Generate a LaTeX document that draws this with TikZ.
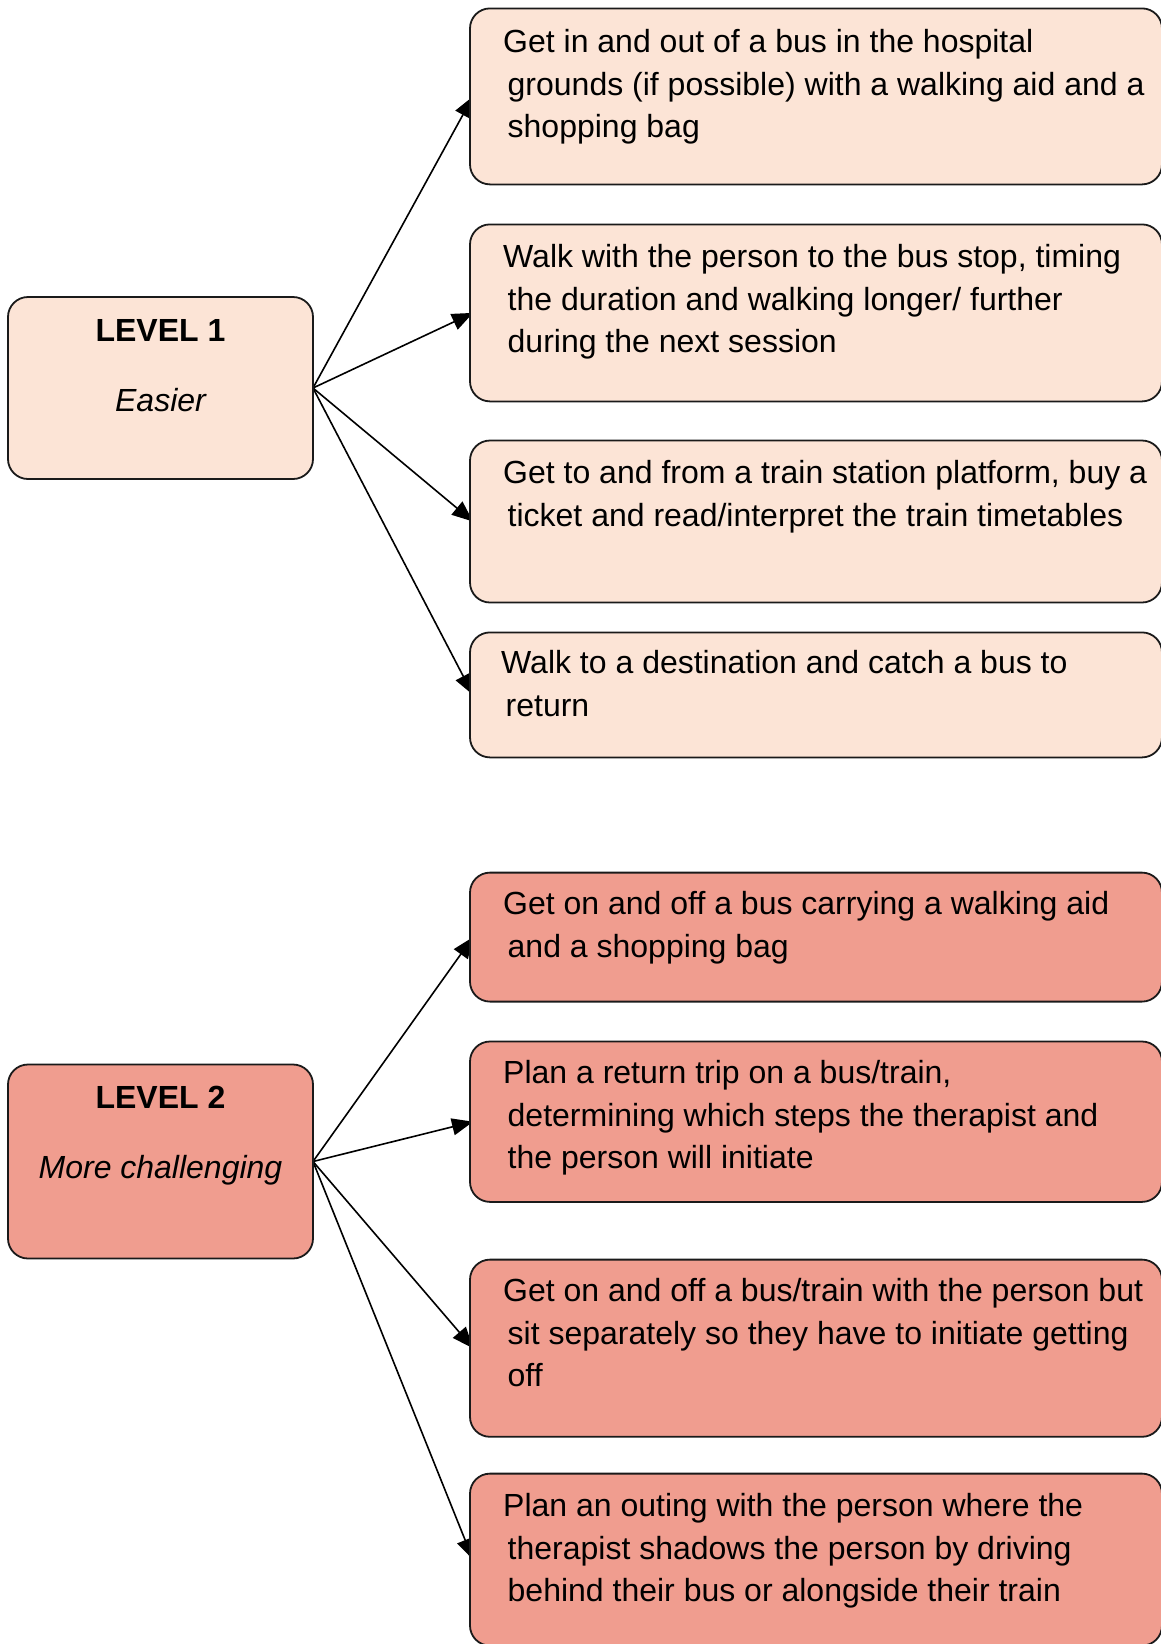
\documentclass[tikz,border=0pt]{standalone}
\usepackage{fontspec}
\setmainfont{Liberation Sans}
\usetikzlibrary{arrows.meta,backgrounds}
\definecolor{peach}{HTML}{FCE4D6}
\definecolor{salmon}{HTML}{F09D8F}
\definecolor{edge}{HTML}{1A1A1A}
% strut that fixes the height of the first text row above its baseline
\newcommand\firstrow{\rule{0pt}{26pt}}
\newcommand\cont{\hspace*{4.5pt}}

\begin{document}
\begin{tikzpicture}[x=1pt,y=-1pt,
  box/.style={draw=edge, line width=1.8pt, rounded corners=20pt, anchor=north west,
              inner sep=0pt, outer sep=0pt},
  lvlbox/.style={box, minimum width=305pt},
  taskbox/.style={box, minimum width=692pt},
  easy/.style={fill=peach},
  hard/.style={fill=salmon},
  lvltext/.style={anchor=base, inner sep=0pt, font=\fontsize{32}{38}\selectfont},
  tasktext/.style={anchor=north west, inner sep=0pt, align=left,
                   font=\fontsize{32}{42.5}\selectfont},
  link/.style={draw=black, line width=1.6pt, -{Triangle[length=21pt,width=17pt]}}
]
\useasboundingbox (0,0) rectangle (1160,1644);

% ---- level 1 ----
\node[lvlbox, easy, minimum height=182pt] (l1) at (8,297) {};
\node[lvltext] (l1a) at (160.5,341) {\bfseries LEVEL 1};
\node[lvltext] (l1b) at (160.5,411) {\itshape Easier};

\node[taskbox, easy, minimum height=176pt] (a1) at (470,8.4) {};
\node[tasktext] (a1t) at (503,52.4-26) {\firstrow Get in and out of a bus in the hospital\\
  \cont grounds (if possible) with a walking aid and a\\ \cont shopping bag};

\node[taskbox, easy, minimum height=177pt] (a2) at (470,224.4) {};
\node[tasktext] (a2t) at (503,267.4-26) {\firstrow Walk with the person to the bus stop, timing\\
  \cont the duration and walking longer/ further\\ \cont during the next session};

\node[taskbox, easy, minimum height=162pt] (a3) at (470,440.5) {};
\node[tasktext] (a3t) at (503,483.5-26) {\firstrow Get to and from a train station platform, buy a\\
  \cont ticket and read/interpret the train timetables};

\node[taskbox, easy, minimum height=125pt] (a4) at (470,632.4) {};
\node[tasktext] (a4t) at (501,673.4-26) {\firstrow Walk to a destination and catch a bus to\\
  \cont return};

% ---- level 2 ----
\node[lvlbox, hard, minimum height=194pt] (l2) at (8,1064.5) {};
\node[lvltext] (l2a) at (160.5,1108.5) {\bfseries LEVEL 2};
\node[lvltext] (l2b) at (160.5,1178.5) {\itshape More challenging};

\node[taskbox, hard, minimum height=129pt] (b1) at (470,872.6) {};
\node[tasktext] (b1t) at (503,914.6-26) {\firstrow Get on and off a bus carrying a walking aid\\
  \cont and a shopping bag};

\node[taskbox, hard, minimum height=160.4pt] (b2) at (470,1041.5) {};
\node[tasktext] (b2t) at (503,1083.5-26) {\firstrow Plan a return trip on a bus/train,\\
  \cont determining which steps the therapist and\\ \cont the person will initiate};

\node[taskbox, hard, minimum height=177.2pt] (b3) at (470,1259.6) {};
\node[tasktext] (b3t) at (503,1301.6-26) {\firstrow Get on and off a bus/train with the person but\\
  \cont sit separately so they have to initiate getting\\ \cont off};

\node[taskbox, hard, minimum height=172pt] (b4) at (470,1473.6) {};
\node[tasktext] (b4t) at (503,1516.6-26) {\firstrow Plan an outing with the person where the\\
  \cont therapist shadows the person by driving\\ \cont behind their bus or alongside their train};

% ---- connectors, kept beneath the boxes ----
\begin{scope}[on background layer]
  \foreach \t in {a1,a2,a3,a4}
    \draw[link] (l1.east) -- ([xshift=3pt]\t.west);
  \foreach \t in {b1,b2,b3,b4}
    \draw[link] (l2.east) -- ([xshift=3pt]\t.west);
\end{scope}
\end{tikzpicture}
\end{document}
